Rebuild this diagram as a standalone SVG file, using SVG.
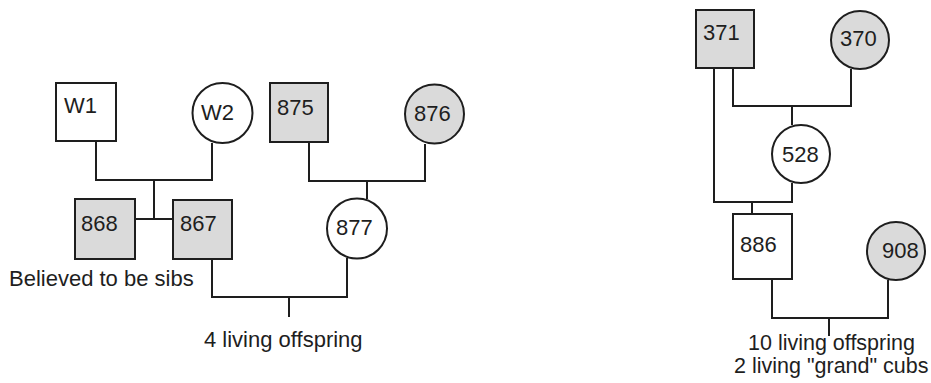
<svg xmlns="http://www.w3.org/2000/svg" width="931" height="383" viewBox="0 0 931 383">
<style>
.m{fill:#fff;stroke:#1e1e1e;stroke-width:2}
.g{fill:#dadada;stroke:#1e1e1e;stroke-width:2}
.c{fill:none;stroke:#1e1e1e;stroke-width:2}
text{font-family:"Liberation Sans",Arial,sans-serif;font-size:22px;fill:#1e1e1e}
.s{font-size:21.5px}
</style>
<rect width="931" height="383" fill="#fff"/>
<g id="connectors" class="c">
<path d="M96,141V180H212V143M154,180V219M135,219H173"/>
<path d="M309,142V181H425V144M367,181V199"/>
<path d="M212,259V297H347V258M289,297V317"/>
<path d="M733,68V106H851V69M792,106V125"/>
<path d="M714,68V202H792V183M752,202V214"/>
<path d="M772,279V318H888V280M829,318V336"/>
</g>
<g id="W1"><rect class="m" x="56" y="83" width="60" height="58"/><text x="64" y="113">W1</text></g>
<g id="W2"><circle class="m" cx="222.5" cy="113" r="30"/><text x="201" y="120">W2</text></g>
<g id="n875"><rect class="g" x="270" y="83" width="58" height="59"/><text x="277" y="115">875</text></g>
<g id="n876"><circle class="g" cx="434.5" cy="114" r="29.5"/><text x="414" y="121">876</text></g>
<g id="n868"><rect class="g" x="75" y="199" width="60" height="60"/><text x="81" y="231">868</text></g>
<g id="n867"><rect class="g" x="173" y="200" width="59" height="59"/><text x="180" y="231">867</text></g>
<g id="n877"><circle class="m" cx="357" cy="228.5" r="30"/><text x="336" y="235">877</text></g>
<g id="n371"><rect class="g" x="696" y="10" width="58" height="58"/><text x="703" y="40">371</text></g>
<g id="n370"><circle class="g" cx="860" cy="40" r="29"/><text x="840" y="46">370</text></g>
<g id="n528"><circle class="m" cx="801" cy="154" r="29"/><text x="782" y="162">528</text></g>
<g id="n886"><rect class="m" x="733" y="214" width="59" height="65"/><text x="740" y="252">886</text></g>
<g id="n908"><circle class="g" cx="896" cy="251" r="29"/><text x="882" y="258">908</text></g>
<text x="9" y="286">Believed to be sibs</text>
<text x="204" y="347">4 living offspring</text>
<text class="s" x="748" y="350">10 living offspring</text>
<text class="s" x="734" y="373">2 living "grand" cubs</text>
</svg>
